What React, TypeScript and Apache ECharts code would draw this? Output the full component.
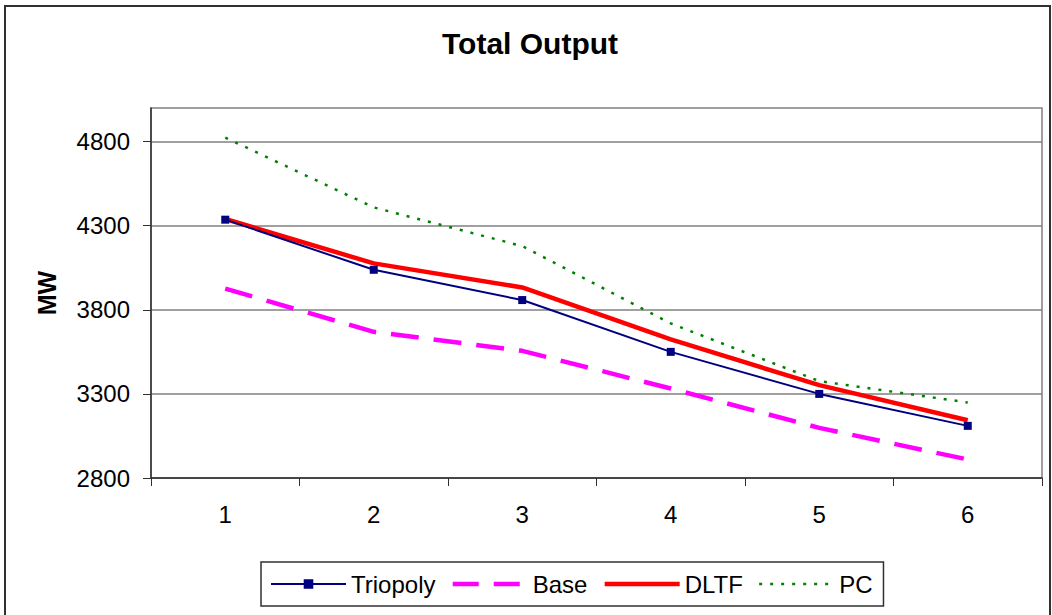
import React, { useEffect, useRef } from "react";
import * as echarts from "echarts";

const categories = ["1", "2", "3", "4", "5", "6"];
const triopoly = [4336, 4038, 3858, 3550, 3300, 3110];
const base = [3926, 3669, 3556, 3332, 3098, 2910];
const dltf = [4340, 4076, 3933, 3624, 3352, 3143];
const pc = [4824, 4409, 4179, 3719, 3376, 3249];
const yTicks = [2800, 3300, 3800, 4300, 4800];

export default function App() {
  const ref = useRef<HTMLDivElement>(null);
  useEffect(() => {
    document.body.style.margin = "0";
    const chart = echarts.init(ref.current!, null, { renderer: "svg" });
    const font = "Arial, 'Liberation Sans', sans-serif";
    chart.setOption({
      animation: false,
      backgroundColor: "#ffffff",
      textStyle: { fontFamily: font },
      title: {
        text: "Total Output",
        left: 442,
        top: 28,
        padding: 0,
        textStyle: { fontSize: 30, fontWeight: "bold", color: "#000", fontFamily: font },
      },
      graphic: [
        {
          type: "rect",
          shape: { x: 5, y: 6, width: 1045, height: 640 },
          style: { fill: "none", stroke: "#303030", lineWidth: 2 },
          silent: true,
        },
      ],
      grid: {
        left: 151,
        top: 108,
        width: 891,
        height: 370,
        show: true,
        borderColor: "#808080",
        borderWidth: 1.5,
        backgroundColor: "#ffffff",
      },
      legend: {
        left: 261,
        top: 562,
        orient: "horizontal",
        itemWidth: 75,
        itemHeight: 12,
        itemGap: 15,
        padding: [10, 11, 10, 9],
        borderColor: "#303030",
        borderWidth: 1.5,
        textStyle: { fontSize: 24, color: "#000", fontFamily: font },
        data: [
          { name: "Triopoly", lineStyle: { width: 2 } },
          { name: "Base", itemStyle: { opacity: 0 }, lineStyle: { width: 4.5, type: [26, 15] } },
          { name: "DLTF", itemStyle: { opacity: 0 }, lineStyle: { width: 4.5 } },
          { name: "PC", itemStyle: { opacity: 0 }, lineStyle: { width: 2.5, type: [3, 8] } },
        ],
      },
      xAxis: {
        type: "category",
        data: categories,
        boundaryGap: true,
        axisLine: { show: true, lineStyle: { color: "#303030", width: 1.5 } },
        axisTick: { show: true, length: 8, inside: false, lineStyle: { color: "#303030" } },
        axisLabel: { fontSize: 24, color: "#000", margin: 24, fontFamily: font },
        splitLine: { show: false },
      },
      yAxis: {
        type: "value",
        min: 2800,
        max: 5000,
        interval: 500,
        name: "MW",
        nameLocation: "middle",
        nameRotate: 90,
        nameGap: 92,
        nameTextStyle: { fontSize: 25, fontWeight: "bold", color: "#000", fontFamily: font },
        axisLine: { show: true, lineStyle: { color: "#303030", width: 1.5 } },
        axisTick: { show: true, length: 8, customValues: yTicks, lineStyle: { color: "#303030" } },
        axisLabel: {
          fontSize: 24,
          color: "#000",
          margin: 21,
          customValues: yTicks,
          fontFamily: font,
          formatter: (v: number) => String(v),
        },
        splitLine: { show: true, lineStyle: { color: "#808080", width: 1.5 } },
      },
      series: [
        {
          name: "Triopoly",
          type: "line",
          data: triopoly,
          symbol: "rect",
          symbolSize: 8,
          itemStyle: { color: "#000080" },
          lineStyle: { color: "#000080", width: 2 },
          z: 4,
        },
        {
          name: "Base",
          type: "line",
          data: base,
          symbol: "none",
          itemStyle: { color: "#ff00ff" },
          lineStyle: { color: "#ff00ff", width: 4.5, type: [28, 15] },
          z: 2,
        },
        {
          name: "DLTF",
          type: "line",
          data: dltf,
          symbol: "none",
          itemStyle: { color: "#ff0000" },
          lineStyle: { color: "#ff0000", width: 4.5 },
          z: 3,
        },
        {
          name: "PC",
          type: "line",
          data: pc,
          symbol: "none",
          itemStyle: { color: "#008000" },
          lineStyle: { color: "#008000", width: 2.5, type: [3, 8] },
          z: 2,
        },
      ],
    });
    return () => chart.dispose();
  }, []);
  return <div ref={ref} style={{ width: 1052, height: 615 }} />;
}
